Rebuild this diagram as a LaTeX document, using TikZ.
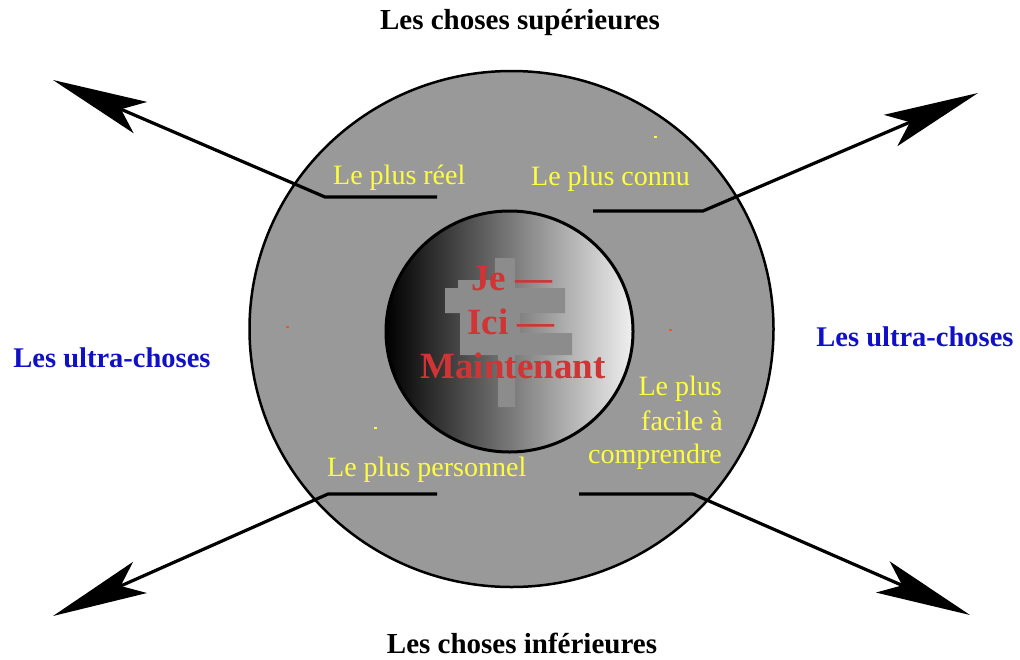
\documentclass[tikz,border=0pt]{standalone}
\usepackage{fontspec}
\setmainfont{Liberation Serif}
\usetikzlibrary{arrows.meta,shapes.geometric}
\definecolor{ring}{RGB}{153,153,153}
\definecolor{lbl}{RGB}{255,255,64}
\definecolor{ultra}{RGB}{16,16,200}
\definecolor{corered}{RGB}{208,52,52}
\definecolor{patch}{RGB}{140,140,140}
\definecolor{speckor}{RGB}{240,90,20}
\begin{document}
\begin{tikzpicture}[x=1pt,y=-1pt,
  conn/.style={line width=3.2pt, line join=round},
  arr/.style={conn,-{Stealth[length=95pt,width=34pt,inset=21pt]}},
  ylbl/.style={text=lbl, font=\fontsize{28}{33}\selectfont, inner sep=0pt, anchor=base west},
  ylblr/.style={ylbl, anchor=base east},
  heading/.style={font=\bfseries\fontsize{29}{34}\selectfont, inner sep=0pt, anchor=base},
  ultratxt/.style={heading, text=ultra, font=\bfseries\fontsize{28.5}{34}\selectfont},
  coretxt/.style={text=corered, font=\bfseries\fontsize{37}{42}\selectfont, inner sep=0pt, anchor=base},
  speck/.style={inner sep=0pt, minimum width=3pt, minimum height=2pt}
]
\useasboundingbox (0,0) rectangle (1020,659);

% rings
\node[ellipse, draw, line width=2.5pt, fill=ring, minimum width=524pt, minimum height=516pt, inner sep=0pt] (outer) at (511.5,329) {};
\node[ellipse, draw, line width=3pt, minimum width=247pt, minimum height=241pt, inner sep=0pt,
      left color=black, right color=white!94!black] (core) at (509.5,331.5) {};

% grey patch behind the central text
\fill[patch] (495,258) -- (515,258) -- (515,288) -- (565,288) -- (565,313) -- (520,313)
  -- (520,333) -- (572,333) -- (572,355) -- (515,355) -- (515,407) -- (498,407)
  -- (498,355) -- (460,355) -- (460,313) -- (445,313) -- (445,288) -- (458,288)
  -- (458,280) -- (495,280) -- cycle;

% specks
\node[speck, fill=speckor] (s1) at (287,327) {};
\node[speck, fill=speckor] (s2) at (670,330) {};
\node[speck, fill=lbl] (s3) at (655,137) {};
\node[speck, fill=lbl] (s4) at (375,428) {};

% connector points
\coordinate (ULend) at (437,197);
\coordinate (ULk)   at (325,197);
\coordinate (ULtip) at (53,80);
\coordinate (URend) at (593,211);
\coordinate (URk)   at (703,211);
\coordinate (URtip) at (978,93);
\coordinate (LLend) at (437,494);
\coordinate (LLk)   at (328,494);
\coordinate (LLtip) at (53,616);
\coordinate (LRend) at (579,494);
\coordinate (LRk)   at (693,494);
\coordinate (LRtip) at (970,615);

\draw[arr] (ULend) -- (ULk) -- (ULtip);
\draw[arr] (URend) -- (URk) -- (URtip);
\draw[arr] (LLend) -- (LLk) -- (LLtip);
\draw[arr] (LRend) -- (LRk) -- (LRtip);

% labels
\node[ylbl] (reel)  at (333,184) {Le plus réel};
\node[ylbl] (connu) at (531,185) {Le plus connu};
\node[ylbl] (perso) at (327,476) {Le plus personnel};
\node[ylblr] (f1) at (722,395) {Le plus};
\node[ylblr] (f2) at (723,430) {facile à};
\node[ylblr] (f3) at (722,463) {comprendre};

\node[heading] (sup) at (520,29) {Les choses supérieures};
\node[heading] (inf) at (522,653) {Les choses inférieures};
\node[ultratxt] (uL) at (112,367) {Les ultra-choses};
\node[ultratxt] (uR) at (915,346) {Les ultra-choses};

\node[coretxt] (je)    at (512,290) {Je —};
\node[coretxt] (ici)   at (511,334) {Ici —};
\node[coretxt] (maint) at (513,378) {Maintenant};
\end{tikzpicture}
\end{document}
